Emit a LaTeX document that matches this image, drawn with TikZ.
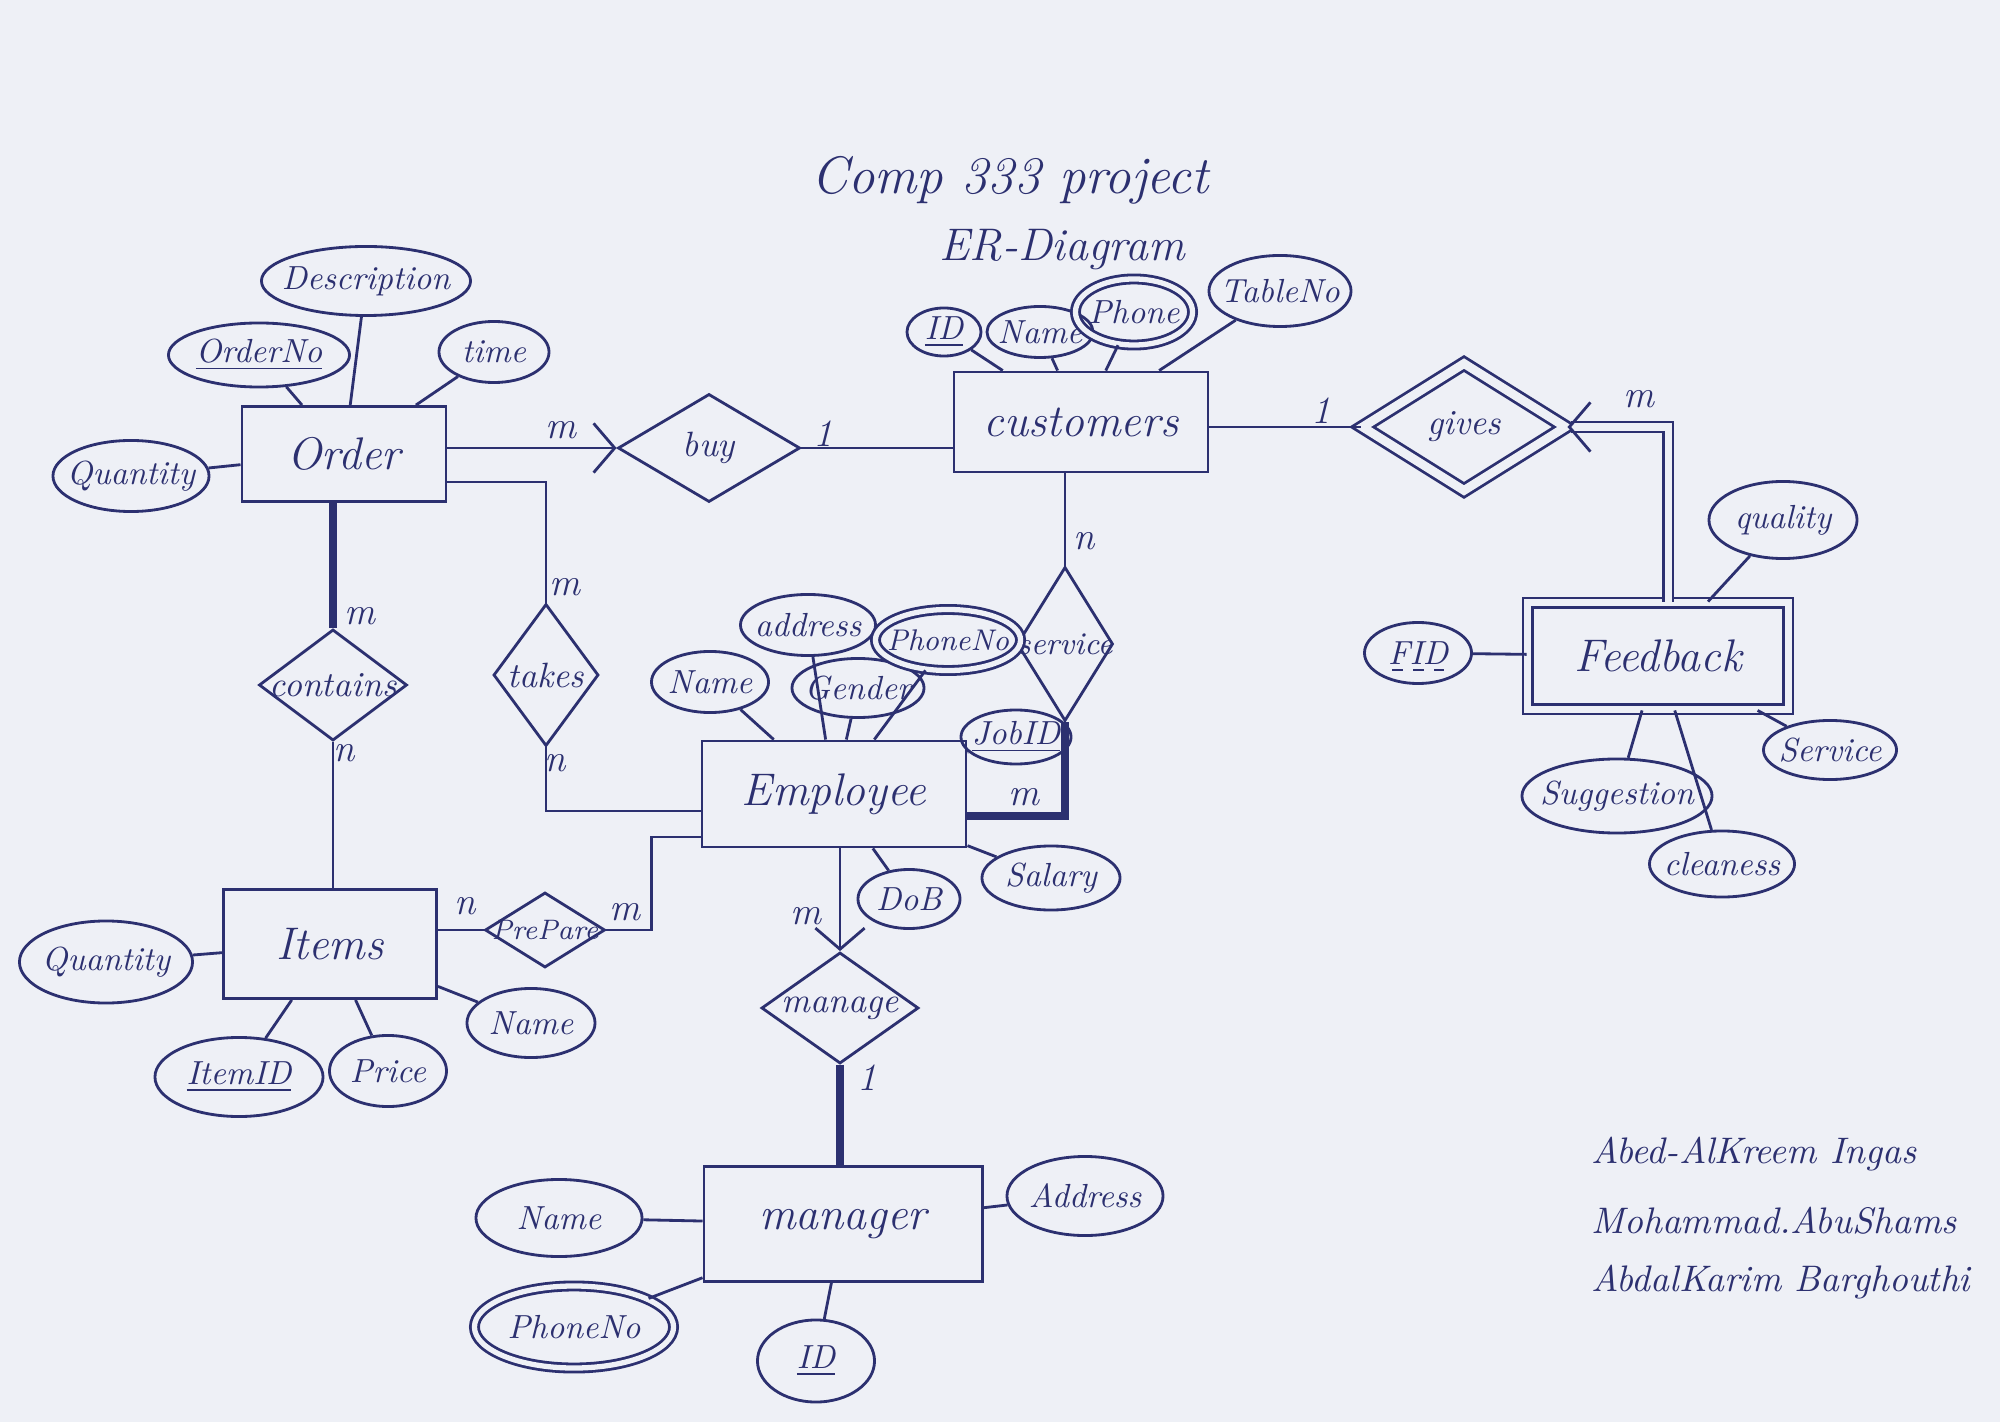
\documentclass[tikz,border=0pt]{standalone}
\usepackage{tikz}
\usetikzlibrary{shapes.geometric,arrows.meta}
\definecolor{ink}{HTML}{2C3070}
\definecolor{paper}{HTML}{EEF0F6}
\tikzstyle{entity}=[draw,rectangle,thick,font=\fontsize{13}{15}\selectfont\itshape]
\tikzstyle{relation}=[draw,diamond,thick,inner sep=0pt,font=\fontsize{10}{12}\selectfont\itshape]
\tikzstyle{attribute}=[draw,ellipse,thick,inner sep=0pt,font=\fontsize{9.5}{11}\selectfont\itshape]
\tikzstyle{multi}=[attribute,double=paper,double distance=1.5pt]
\tikzstyle{card}=[font=\fontsize{11}{13}\selectfont\itshape]
\tikzstyle{heavy}=[line width=2.4pt]
\tikzstyle{into}=[-{Straight Barb[length=6pt,width=14pt]}]

\begin{document}
\begin{tikzpicture}[x=0.01cm,y=-0.01cm,thick,color=ink]
\fill[paper] (0,0) rectangle (2000,1422);
\useasboundingbox (0,0) rectangle (2000,1422);
  \node[font=\fontsize{15}{18}\selectfont\itshape] (title) at (1010,180) {Comp 333 project};
  \node[font=\fontsize{13}{16}\selectfont\itshape] (subtitle) at (1062,250) {ER-Diagram};
  \foreach \place/\name/\wid/\hei/\txt in {{(344,454)/order/2.04/0.95/Order},
                                           {(1081,422)/cust/2.54/1.0/customers},
                                           {(834,794)/emp/2.64/1.06/Employee},
                                           {(330,944)/items/2.13/1.09/Items},
                                           {(843,1224)/mgr/2.78/1.15/manager}}
    \node[entity,minimum width=\wid cm,minimum height=\hei cm] (\name) at \place {\txt};
  \node[entity,double=paper,double distance=2pt,minimum width=2.6cm,minimum height=1.06cm] (fb) at (1658,656) {Feedback};
  \foreach \place/\name/\wid/\hei/\txt in {{(709,448)/buy/1.82/1.08/buy},
                                           {(333,685)/contains/1.48/1.11/contains},
                                           {(546,675)/takes/1.05/1.42/takes},
                                           {(1065,644)/service/0.96/1.54/\small service},
                                           {(545,930)/prepare/1.2/0.75/\footnotesize PrePare},
                                           {(840,1008)/manage/1.57/1.11/manage}}
    \node[relation,minimum width=\wid cm,minimum height=\hei cm] (\name) at \place {\makebox[0pt]{\txt}};
  \node[relation,double=paper,double distance=2.5pt,minimum width=2.04cm,minimum height=1.28cm] (gives) at (1464,427) {\makebox[0pt]{gives}};
  \foreach \place/\name/\wid/\hei/\txt in {{(366,281)/desc/2.09/0.69/Description},
                                           {(259,355)/orderno/1.81/0.64/\underline{OrderNo}},
                                           {(494,352)/otime/1.10/0.61/time},
                                           {(131,476)/oqty/1.56/0.71/Quantity},
                                           {(944,332)/cid/0.74/0.48/\underline{ID}},
                                           {(1040,332)/cname/1.06/0.51/Name},
                                           {(1280,291)/ctable/1.42/0.71/TableNo},
                                           {(1783,520)/quality/1.48/0.77/quality},
                                           {(1418,653)/fid/1.07/0.61/FID},
                                           {(1617,796)/suggest/1.9/0.74/Suggestion},
                                           {(1830,750)/fservice/1.33/0.59/Service},
                                           {(1722,864)/clean/1.45/0.66/cleaness},
                                           {(710,682)/ename/1.17/0.61/Name},
                                           {(808,625)/eaddr/1.35/0.61/address},
                                           {(858,688)/egender/1.32/0.59/Gender},
                                           {(1016,737)/jobid/1.1/0.54/\underline{JobID}},
                                           {(909,899)/dob/1.02/0.59/DoB},
                                           {(1051,878)/salary/1.38/0.64/Salary},
                                           {(106,962)/iqty/1.73/0.82/Quantity},
                                           {(239,1077)/itemid/1.68/0.79/\underline{ItemID}},
                                           {(388,1071)/price/1.17/0.71/Price},
                                           {(531,1023)/iname/1.28/0.69/Name},
                                           {(559,1218)/mname/1.66/0.77/Name},
                                           {(816,1361)/mid/1.17/0.82/\underline{ID}},
                                           {(1085,1196)/maddr/1.56/0.79/Address}}
    \node[attribute,minimum width=\wid cm,minimum height=\hei cm] (\name) at \place {\makebox[0pt]{\txt}};
  \foreach \place/\name/\wid/\hei/\txt in {{(1134,312)/cphone/1.17/0.66/Phone},
                                           {(948,640)/ephone/1.45/0.61/\fontsize{8.5}{10}\selectfont PhoneNo},
                                           {(574,1327)/mphone/1.99/0.82/PhoneNo}}
    \node[multi,minimum width=\wid cm,minimum height=\hei cm] (\name) at \place {\makebox[0pt]{\txt}};
  \draw[dashed,thin] ([xshift=-0.26cm,yshift=-0.17cm]fid.center) -- ([xshift=0.26cm,yshift=-0.17cm]fid.center);
  \foreach \source/\dest in {desc/order,orderno/order,otime/order,oqty/order,
                             cid/cust,cname/cust,cphone/cust,ctable/cust,
                             quality/fb,fid/fb,suggest/fb,fservice/fb,clean/fb,
                             ename/emp,eaddr/emp,egender/emp,ephone/emp,jobid/emp,dob/emp,salary/emp,
                             iqty/items,itemid/items,price/items,iname/items,
                             mname/mgr,mphone/mgr,mid/mgr,maddr/mgr}
      \path (\source) edge (\dest);
  \draw[into] (order.east |- buy.west) -- (buy.west);
  \draw (buy.east) -- (buy.east -| cust.west);
  \draw (cust.east |- gives.west) -- (gives.west);
  \draw[double=paper,double distance=2pt,into] ([xshift=0.1cm]fb.north) |- (gives.east);
  \draw[heavy] (order.south -| contains.north) -- (contains.north);
  \draw (contains.south) -- (contains.south |- items.north);
  \draw ([yshift=-0.28cm]order.east) -| (takes.north);
  \draw (takes.south) |- ([yshift=-0.17cm]emp.west);
  \draw (cust.south -| service.north) -- (service.north);
  \draw[heavy] (service.south) |- ([yshift=-0.22cm]emp.east);
  \draw (items.east |- prepare.west) -- (prepare.west);
  \draw (prepare.east) -- ++(45,0) |- ([yshift=-0.43cm]emp.west);
  \draw[into] (emp.south -| manage.north) -- (manage.north);
  \draw[heavy] (manage.south) -- (manage.south |- mgr.north);
  \foreach \place/\name/\txt in {{(561,430)/cbuyo/m},{(823,434)/cbuyc/1},
                                 {(1321,411)/cgivc/1},{(1639,399)/cgivf/m},
                                 {(360,616)/ccono/m},{(344,753)/cconi/n},
                                 {(565,587)/ctako/m},{(555,763)/ctake/n},
                                 {(1084,541)/csercu/n},{(1024,797)/csere/m},
                                 {(465,906)/cprei/n},{(625,912)/cpree/m},
                                 {(806,916)/cmane/m},{(867,1078)/cmanm/1}}
    \node[card] (\name) at \place {\txt};
  \foreach \place/\name/\txt in {{(1578,1154)/sigone/Abed-AlKreem Ingas},
                                 {(1578,1221)/sigtwo/Mohammad.AbuShams},
                                 {(1578,1282)/sigthree/AbdalKarim Barghouthi}}
    \node[anchor=west,font=\fontsize{10.5}{13}\selectfont\itshape] (\name) at \place {\txt};
\end{tikzpicture}
\end{document}
